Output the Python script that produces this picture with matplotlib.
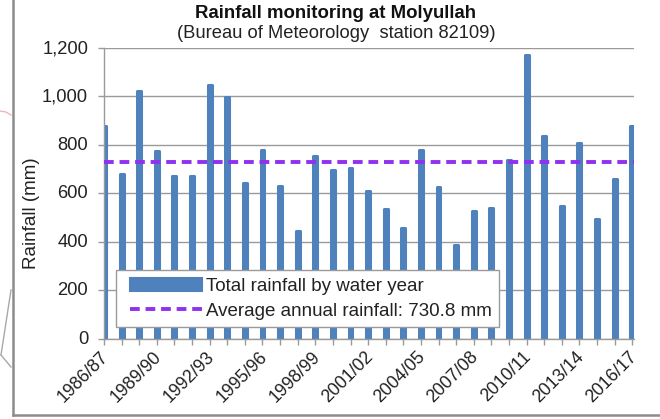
import matplotlib
matplotlib.use("Agg")
import matplotlib.pyplot as plt
from matplotlib.legend_handler import HandlerLine2D, HandlerPatch
from matplotlib.lines import Line2D
from matplotlib.patches import Patch
from matplotlib.transforms import ScaledTranslation

plt.rcParams['font.family'] = ['Liberation Sans', 'DejaVu Sans']

years = ["1986/87", "1987/88", "1988/89", "1989/90", "1990/91", "1991/92", "1992/93", "1993/94",
         "1994/95", "1995/96", "1996/97", "1997/98", "1998/99", "1999/00", "2000/01", "2001/02",
         "2002/03", "2003/04", "2004/05", "2005/06", "2006/07", "2007/08", "2008/09", "2009/10",
         "2010/11", "2011/12", "2012/13", "2013/14", "2014/15", "2015/16", "2016/17"]
rainfall = [876, 680, 1022, 775, 673, 673, 1048, 998, 643, 778, 632, 445, 753, 695, 703, 608,
            535, 455, 778, 626, 386, 528, 538, 738, 1170, 838, 546, 806, 493, 658, 876]
average = 730.8
yticks = [0, 200, 400, 600, 800, 1000, 1200]

W, H = 660, 419
fig = plt.figure(figsize=(W / 100, H / 100), dpi=100)
ax = fig.add_axes([104 / W, 1 - 338.5 / H, 530 / W, 290.5 / H])

blue = "#4f81bd"
purple = "#9030f0"
grey = "#9a9a9a"
dark = "#222222"

xpos = list(range(len(years)))
ax.bar(xpos, rainfall, width=0.22, color=blue, edgecolor=blue, linewidth=2.2, joinstyle="round", zorder=2)
ax.plot([0, 30.1], [average, average], color=purple, lw=2.8, dashes=(2.5, 1.5), zorder=3)

ax.set_xlim(0, 30.1)
ax.set_ylim(0, 1200)
ax.set_yticks(yticks)
ax.set_yticklabels([f"{v:,}" for v in yticks], fontsize=13.2, color=dark)
ax.set_xticks(xpos)
ax.set_xticklabels([y if i % 3 == 0 else "" for i, y in enumerate(years)], rotation=45, ha="right",
                   rotation_mode="anchor", fontsize=12.8, color=dark)
ax.tick_params(axis="y", length=4.5, width=1, color=grey, pad=7)
ax.tick_params(axis="x", length=4, width=1, color=grey, pad=3)

# labels sit a little left of / above where the ticks would put them
shift_x = ScaledTranslation(-4 / 100, 0, fig.dpi_scale_trans)
shift_y = ScaledTranslation(0, 1.5 / 100, fig.dpi_scale_trans)
for t in ax.get_xticklabels():
    t.set_transform(t.get_transform() + shift_x)
for t in ax.get_yticklabels():
    t.set_transform(t.get_transform() + shift_y)

ax.grid(axis="y", color=grey, lw=1, zorder=1)
ax.set_axisbelow(True)
for side in ["top", "right"]:
    ax.spines[side].set_visible(False)
for side in ["left", "bottom"]:
    ax.spines[side].set_color(grey)
    ax.spines[side].set_linewidth(1)

fig.text(32 / W, 1 - 213 / H, "Rainfall (mm)", rotation=90, ha="center", va="center",
         fontsize=13.5, color=dark)
fig.text(336 / W, 1 - 13 / H, "Rainfall monitoring at Molyullah", ha="center", va="center",
         fontsize=13.4, fontweight="bold", color="#111111")
fig.text(336 / W, 1 - 33 / H, "(Bureau of Meteorology  station 82109)", ha="center", va="center",
         fontsize=13.2, color=dark)

bar_handle = Patch(facecolor=blue, edgecolor=blue, linewidth=1.5, joinstyle="round")
line_handle = Line2D([0], [0], color=purple, lw=2.8, dashes=(2.5, 1.5))
leg = ax.legend([bar_handle, line_handle],
                ["Total rainfall by water year", "Average annual rainfall: 730.8 mm"],
                handler_map={bar_handle: HandlerPatch(xpad=0.32), line_handle: HandlerLine2D(xpad=0.32)},
                loc="lower left", bbox_to_anchor=((116 - 104) / 530, (338.5 - 327) / 290.5),
                borderaxespad=0, fontsize=13.5, fancybox=False, framealpha=1, edgecolor=grey,
                handlelength=4.2, handletextpad=0.2, labelspacing=0.4, borderpad=0.4)
leg.get_frame().set_linewidth(1)
leg.set_zorder(5)
for t in leg.get_texts():
    t.set_color(dark)

# frame of the slide the chart sits on, and bits of the map behind it
def px_line(xs, ys, **kw):
    fig.add_artist(Line2D([x / W for x in xs], [1 - y / H for y in ys], **kw))

px_line([12.5, 12.5], [0, 414.5], color="#8c8c8c", lw=1.8)
px_line([12.5, 660], [414.5, 414.5], color="#8c8c8c", lw=1.8)
px_line([1, 11], [355, 290], color="#a8a8a8", lw=1)
px_line([1, 11], [355, 367], color="#a8a8a8", lw=1)
px_line([0, 6, 11], [111, 112, 115], color="#efb5b5", lw=1)

fig.savefig("out.png", dpi=100)
